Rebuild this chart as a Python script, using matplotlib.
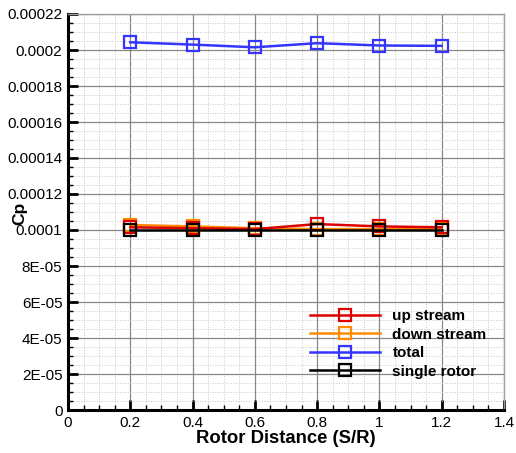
import matplotlib
matplotlib.use("Agg")
import matplotlib.pyplot as plt
from matplotlib.ticker import MultipleLocator, FuncFormatter

plt.rcParams['font.family'] = ['Liberation Sans', 'DejaVu Sans']

distance = [0.2, 0.4, 0.6, 0.8, 1.0, 1.2]
up_stream = [0.0001015, 0.0001010, 0.0001005, 0.0001033, 0.0001020, 0.0001015]
down_stream = [0.0001028, 0.0001020, 0.0001010, 0.0001005, 0.0001005, 0.0001008]
total = [0.0002043, 0.0002030, 0.0002015, 0.0002038, 0.0002025, 0.0002023]
single_rotor = [0.0001, 0.0001, 0.0001, 0.0001, 0.0001, 0.0001]

y_tick_labels = ['0', '2E-05', '4E-05', '6E-05', '8E-05', '0.0001', '0.00012',
                 '0.00014', '0.00016', '0.00018', '0.0002', '0.00022']
x_tick_labels = ['0', '0.2', '0.4', '0.6', '0.8', '1', '1.2', '1.4']

fig = plt.figure(figsize=(5.16, 4.53), dpi=100)
ax = fig.add_axes([68 / 516, 1 - 410 / 453, (504 - 68) / 516, (410 - 14) / 453])

style = dict(marker='s', markersize=9, markerfacecolor='none',
             markeredgewidth=1.6, linewidth=1.8)
ax.plot(distance, total, color='#3535ff', label='total', zorder=3, **style)
ax.plot(distance, down_stream, color='#ff8c00', label='down stream', zorder=3, **style)
ax.plot(distance, up_stream, color='#dd0000', label='up stream', zorder=4, **style)
ax.plot(distance, single_rotor, color='black', label='single rotor', zorder=5, **style)

ax.set_xlim(0, 1.4)
ax.set_ylim(0, 0.00022)
ax.xaxis.set_major_locator(MultipleLocator(0.2))
ax.xaxis.set_minor_locator(MultipleLocator(0.05))
ax.yaxis.set_major_locator(MultipleLocator(0.00002))
ax.yaxis.set_minor_locator(MultipleLocator(0.000005))


def x_fmt(v, pos):
    i = int(round(v / 0.2))
    return x_tick_labels[i] if 0 <= i < len(x_tick_labels) else ''


def y_fmt(v, pos):
    i = int(round(v / 0.00002))
    return y_tick_labels[i] if 0 <= i < len(y_tick_labels) else ''


ax.xaxis.set_major_formatter(FuncFormatter(x_fmt))
ax.yaxis.set_major_formatter(FuncFormatter(y_fmt))

ax.grid(which='major', color='#888888', linewidth=0.9, linestyle='-')
ax.grid(which='minor', color='#c8c8c8', linewidth=0.7, linestyle=':')
ax.set_axisbelow(True)

ax.tick_params(which='major', direction='in', length=7, width=2, labelsize=11,
               top=False, right=False, pad=4)
ax.tick_params(which='minor', direction='in', length=3.5, width=1, top=False, right=False)

for side in ('left', 'bottom'):
    ax.spines[side].set_linewidth(2.2)
    ax.spines[side].set_color('black')
for side in ('top', 'right'):
    ax.spines[side].set_linewidth(1.0)
    ax.spines[side].set_color('#a0a0a0')

ax.set_xlabel('Rotor Distance (S/R)', fontsize=13.3, fontweight='bold', labelpad=0)
ax.set_ylabel('Cp', fontsize=12.5, fontweight='bold')
ax.yaxis.set_label_coords(-0.094, 0.497)

handles, labels = ax.get_legend_handles_labels()
order = [labels.index(n) for n in ['up stream', 'down stream', 'total', 'single rotor']]
ax.legend([handles[i] for i in order], [labels[i] for i in order],
          loc='upper left', bbox_to_anchor=(0.555, 0.254), frameon=False,
          borderpad=0, borderaxespad=0,
          handlelength=4.6, labelspacing=0.29, handletextpad=0.8,
          prop={'weight': 'bold', 'size': 11})

fig.savefig('out.png', dpi=100)
